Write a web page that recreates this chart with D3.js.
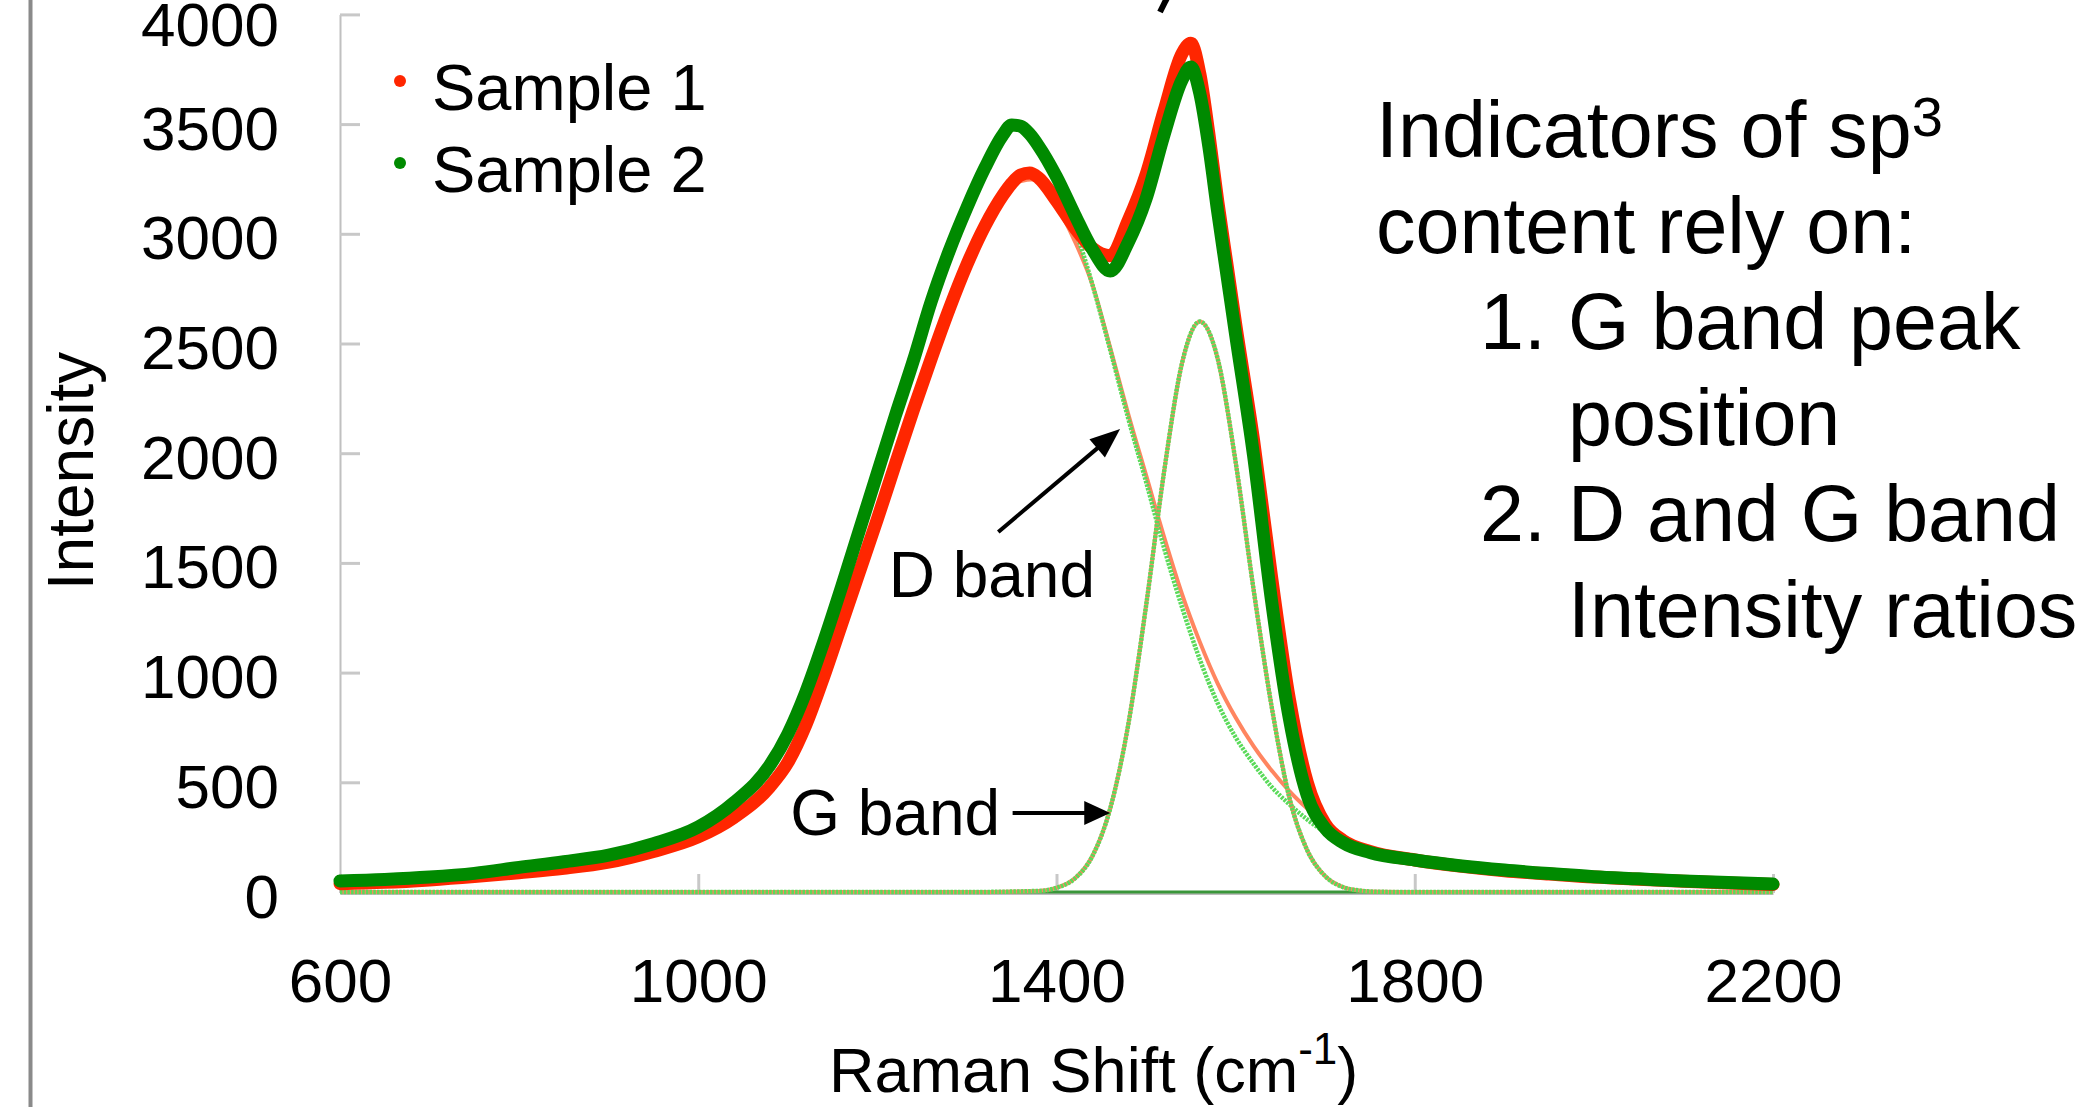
<!DOCTYPE html>
<html>
<head>
<meta charset="utf-8">
<script src="https://cdn.jsdelivr.net/npm/d3@7"></script>
<style>
  html, body { margin: 0; padding: 0; background: #ffffff; }
  svg { display: block; }
  text { font-family: "Liberation Sans", Arial, Helvetica, sans-serif; fill: #000; }
</style>
</head>
<body>
<script>
// ---------------- data ----------------
const yTicks = [0, 500, 1000, 1500, 2000, 2500, 3000, 3500, 4000];
const xTicks = [600, 1000, 1400, 1800, 2200];
const seriesNames = ["Sample 1", "Sample 2"];

// measured spectra (thick curves)
const shiftX  = [600, 650, 700, 750, 800, 850, 900, 950, 1000, 1040, 1080, 1100, 1120, 1140, 1160, 1180, 1200, 1220, 1240, 1260, 1280, 1300, 1320, 1340, 1350, 1360, 1370, 1380, 1400, 1420, 1440, 1460, 1480, 1500, 1520, 1540, 1550, 1560, 1570, 1580, 1590, 1600, 1620, 1640, 1660, 1680, 1700, 1720, 1750, 1800, 1850, 1900, 1950, 2000, 2050, 2100, 2150, 2200];
const sample1 = [38, 44, 55, 70, 88, 108, 136, 185, 251, 340, 480, 590, 760, 980, 1220, 1460, 1700, 1950, 2195, 2430, 2655, 2860, 3035, 3175, 3230, 3268, 3277, 3255, 3150, 3030, 2935, 2900, 3060, 3270, 3560, 3820, 3868, 3730, 3460, 3150, 2870, 2590, 2060, 1440, 880, 500, 310, 235, 185, 146, 118, 97, 82, 68, 58, 49, 41, 34];
const sample2 = [50, 57, 68, 85, 112, 138, 168, 220, 296, 408, 578, 720, 910, 1140, 1390, 1650, 1910, 2170, 2420, 2690, 2920, 3120, 3300, 3450, 3496, 3490, 3455, 3400, 3260, 3090, 2930, 2830, 2960, 3160, 3450, 3700, 3760, 3640, 3400, 3100, 2820, 2540, 1990, 1330, 790, 440, 290, 225, 180, 146, 120, 100, 84, 70, 60, 50, 43, 36];

// fitted D band components (thin curves)
const fitX   = [600, 700, 800, 900, 1000, 1100, 1200, 1300, 1350, 1380, 1400, 1420, 1440, 1460, 1480, 1500, 1520, 1540, 1560, 1580, 1600, 1620, 1640, 1660, 1680, 1700, 1720, 1750, 1800, 1900, 2000, 2100, 2200];
const dBand1 = [38, 55, 88, 136, 251, 590, 1700, 2860, 3230, 3250, 3130, 2970, 2770, 2480, 2180, 1900, 1620, 1360, 1140, 950, 795, 665, 555, 460, 380, 310, 250, 190, 146, 97, 68, 49, 34];
const dBand2 = [50, 68, 112, 168, 296, 720, 1910, 3120, 3496, 3390, 3240, 3030, 2770, 2470, 2160, 1870, 1570, 1300, 1060, 860, 705, 585, 480, 400, 330, 272, 223, 180, 146, 100, 70, 50, 36];

// fitted G band component (thin curves, both samples nearly identical)
const gFitX  = [600, 1300, 1380, 1400, 1420, 1440, 1460, 1480, 1500, 1520, 1540, 1560, 1580, 1600, 1620, 1640, 1660, 1680, 1700, 1720, 1740, 1760, 1800, 2200];
const gBand1 = [0, 0, 5, 19, 60, 163, 381, 760, 1304, 1912, 2408, 2600, 2430, 1960, 1380, 850, 430, 190, 72, 22, 6, 1, 0, 0];
const gBand2 = [0, 0, 5, 19, 60, 163, 381, 760, 1304, 1912, 2408, 2600, 2430, 1960, 1380, 850, 430, 190, 72, 22, 6, 1, 0, 0];

// zero baseline
const baseX = [600, 2200];
const baseY = [0, 0];

// annotations (data coordinates)
const dArrow = { from: [1335, 1641], to: [1471, 2110], label: "D band", labelAt: [1443, 1345] };
const gArrow = { from: [1351, 360], to: [1460, 360], label: "G band", labelAt: [1337, 260] };

const noteLines = [
  { num: "", text: "Indicators of sp", sup: "3", indent: false },
  { num: "", text: "content rely on:", sup: "", indent: false },
  { num: "1.", text: "G band peak", sup: "", indent: true },
  { num: "", text: "position", sup: "", indent: true },
  { num: "2.", text: "D and G band", sup: "", indent: true },
  { num: "", text: "Intensity ratios", sup: "", indent: true }
];

// ---------------- drawing ----------------
const W = 2082, H = 1107;
const svg = d3.select("body").append("svg").attr("width", W).attr("height", H);
svg.append("rect").attr("width", W).attr("height", H).attr("fill", "#fff");

// slide frame edge on the left
svg.append("rect").attr("x", 28.5).attr("y", 0).attr("width", 4).attr("height", H).attr("fill", "#8a8a8a");

const x = d3.scaleLinear().domain([600, 2200]).range([340, 1773]);
const y = d3.scaleLinear().domain([0, 4000]).range([892, 14.4]);

// axes
const yAxis = d3.axisLeft(y).tickValues(yTicks).tickSizeInner(-20).tickSizeOuter(0).tickPadding(61).tickFormat(d3.format("d"));
const gy = svg.append("g").attr("transform", `translate(${x(600)},0)`).call(yAxis);
gy.select(".domain").attr("stroke", "#c0c0c0").attr("stroke-width", 2);
gy.selectAll(".tick line").attr("stroke", "#c8c8c8").attr("stroke-width", 3);
gy.selectAll(".tick text").attr("dy", null).attr("y", d => d === 4000 ? 31 : 25).style("font-size", "62px").attr("fill", "#000");

const xAxis = d3.axisBottom(x).tickValues(xTicks).tickSizeInner(-19).tickSizeOuter(0).tickFormat(d3.format("d"));
const gx = svg.append("g").attr("transform", `translate(0,${y(0) + 1})`).call(xAxis);
gx.select(".domain").attr("stroke", "#bdbdbd").attr("stroke-width", 3);
gx.selectAll(".tick line").attr("stroke", "#c8c8c8").attr("stroke-width", 3);
gx.selectAll(".tick text").attr("dy", null).attr("y", 109).style("font-size", "62px").attr("fill", "#000");

// axis titles
svg.append("text").attr("transform", "translate(93,471) rotate(-90)")
  .attr("text-anchor", "middle").style("font-size", "64px").text("Intensity");

const xt = svg.append("text").attr("x", 829).attr("y", 1092).style("font-size", "63px");
xt.append("tspan").text("Raman Shift (cm");
xt.append("tspan").attr("dy", -28).style("font-size", "44px").text("-1");
xt.append("tspan").attr("dy", 28).text(")");

// line generator
const line = d3.line().x(d => x(d[0])).y(d => y(d[1])).curve(d3.curveMonotoneX);
const zip = (xs, ys) => xs.map((v, i) => [v, ys[i]]);

const plot = svg.append("g");

// baseline
plot.append("path").datum(zip(baseX, baseY)).attr("d", line)
  .attr("fill", "none").attr("stroke", "#3a963a").attr("stroke-width", 3);

// fitted components (under the spectra)
plot.append("path").datum(zip(fitX, dBand1)).attr("d", line)
  .attr("fill", "none").attr("stroke", "#ff8560").attr("stroke-width", 4);
plot.append("path").datum(zip(fitX, dBand2)).attr("d", line)
  .attr("fill", "none").attr("stroke", "#5ada5a").attr("stroke-width", 4.5).attr("stroke-dasharray", "2.5,1.2");
plot.append("path").datum(zip(gFitX, gBand1)).attr("d", line)
  .attr("fill", "none").attr("stroke", "#ff8560").attr("stroke-width", 4);
plot.append("path").datum(zip(gFitX, gBand2)).attr("d", line)
  .attr("fill", "none").attr("stroke", "#5ada5a").attr("stroke-width", 4.5).attr("stroke-dasharray", "2.5,1.2");

// measured spectra
const colors = ["#ff2600", "#008a00"];
[sample1, sample2].forEach((s, i) => {
  plot.append("path").datum(zip(shiftX, s)).attr("d", line)
    .attr("fill", "none").attr("stroke", colors[i]).attr("stroke-width", 13)
    .attr("stroke-linecap", "round").attr("stroke-linejoin", "round");
});

// legend
const legY = [81, 163];
seriesNames.forEach((n, i) => {
  svg.append("circle").attr("cx", 400).attr("cy", legY[i]).attr("r", 6).attr("fill", colors[i]);
  svg.append("text").attr("x", 432).attr("y", legY[i] + 29).style("font-size", "65px").text(n);
});

// arrows
function arrow(a, headLen, headHalf) {
  const x1 = x(a.from[0]), y1 = y(a.from[1]), x2 = x(a.to[0]), y2 = y(a.to[1]);
  const ang = Math.atan2(y2 - y1, x2 - x1);
  const bx = x2 - headLen * Math.cos(ang), by = y2 - headLen * Math.sin(ang);
  svg.append("line").attr("x1", x1).attr("y1", y1).attr("x2", bx + 2 * Math.cos(ang)).attr("y2", by + 2 * Math.sin(ang))
    .attr("stroke", "#000").attr("stroke-width", 4);
  const px = -Math.sin(ang), py = Math.cos(ang);
  svg.append("path").attr("d", `M${x2},${y2}L${bx + px * headHalf},${by + py * headHalf}L${bx - px * headHalf},${by - py * headHalf}Z`)
    .attr("fill", "#000");
  svg.append("text").attr("x", x(a.labelAt[0])).attr("y", y(a.labelAt[1]))
    .attr("text-anchor", "end").style("font-size", "64px").text(a.label);
}
arrow(dArrow, 30, 12);
arrow(gArrow, 26, 12);

// fragment of the clipped title descender at the top edge
svg.append("line").attr("x1", 1160).attr("y1", 12).attr("x2", 1167).attr("y2", -2)
  .attr("stroke", "#000").attr("stroke-width", 6);

// note block on the right
const noteBase = 157, noteStep = 96;
noteLines.forEach((l, i) => {
  const by = noteBase + i * noteStep;
  if (l.num) svg.append("text").attr("x", 1480).attr("y", by).style("font-size", "79px").text(l.num);
  const t = svg.append("text").attr("x", l.indent ? 1568 : 1376).attr("y", by).style("font-size", "79px");
  t.append("tspan").text(l.text);
  if (l.sup) t.append("tspan").attr("dy", -21).style("font-size", "56px").text(l.sup);
});
</script>
</body>
</html>
